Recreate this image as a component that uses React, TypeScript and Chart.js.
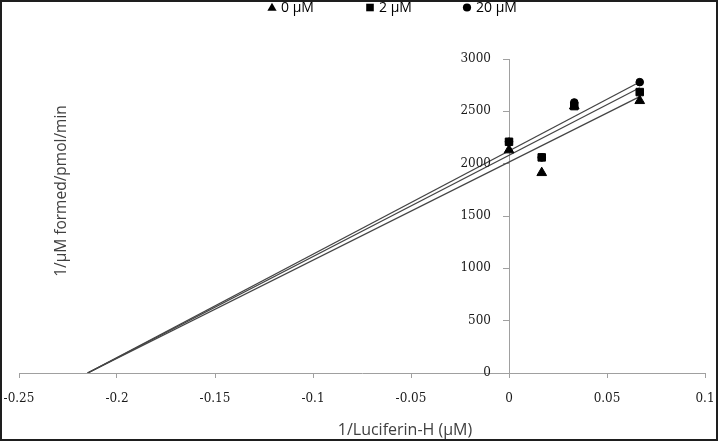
import React, { useEffect, useRef } from 'react';
import { Chart, registerables } from 'chart.js';

Chart.register(...registerables);

// ---- data ----
const seriesLabels = ['0 µM', '2 µM', '20 µM'];
const xValues = [0, 0.0167, 0.0333, 0.0667];
const y0uM = [2130, 1913, 2550, 2601];
const y2uM = [2209, 2060, 2550, 2684];
const y20uM = [2209, 2060, 2585, 2779];

const trendX = [-0.215, 0.0667];
const trend0uM = [0, 2640];
const trend2uM = [0, 2725];
const trend20uM = [0, 2780];

const xTickLabels = ['-0.25', '-0.2', '-0.15', '-0.1', '-0.05', '0', '0.05', '0.1'];
const yTickLabels = ['0', '500', '1000', '1500', '2000', '2500', '3000'];
const xTitle = '1/Luciferin-H (µM)';
const yTitle = '1/µM formed/pmol/min';

const seriesY = [y0uM, y2uM, y20uM];
const trendY = [trend0uM, trend2uM, trend20uM];
const markerStyles = ['triangle', 'rect', 'circle'];
const markerRadius = [5.6, 5.3, 3.8];

const overlayPlugin = {
  id: 'overlay',
  afterDraw(chart: any) {
    const ctx = chart.ctx as CanvasRenderingContext2D;
    const xs = chart.scales.x;
    const ys = chart.scales.y;

    // y tick labels, to the left of the y axis that crosses at x = 0
    const axisX = xs.getPixelForValue(0);
    ctx.save();
    ctx.font = '12px "DejaVu Serif"';
    ctx.fillStyle = '#1a1a1a';
    ctx.textAlign = 'right';
    ctx.textBaseline = 'middle';
    yTickLabels.forEach((l) => {
      ctx.fillText(l, axisX - 18, ys.getPixelForValue(parseFloat(l)));
    });
    ctx.restore();

    // x axis title
    ctx.save();
    ctx.font = '16px "Open Sans"';
    ctx.fillStyle = '#404040';
    ctx.textAlign = 'center';
    ctx.textBaseline = 'middle';
    ctx.fillText(xTitle, 405, 430);
    ctx.restore();

    // y axis title
    ctx.save();
    ctx.translate(62, 191);
    ctx.rotate(-Math.PI / 2);
    ctx.font = '15.5px "Open Sans"';
    ctx.fillStyle = '#404040';
    ctx.textAlign = 'center';
    ctx.textBaseline = 'middle';
    ctx.fillText(yTitle, 0, 0);
    ctx.restore();

    // legend
    const markerX = [272, 370, 467];
    const cy = 7.5;
    ctx.save();
    ctx.fillStyle = '#000';
    ctx.font = '14px "Open Sans"';
    ctx.textBaseline = 'middle';
    ctx.textAlign = 'left';
    seriesLabels.forEach((label, i) => {
      const cx = markerX[i];
      const style = markerStyles[i];
      ctx.beginPath();
      if (style === 'triangle') {
        ctx.moveTo(cx, cy - 4.8);
        ctx.lineTo(cx + 4.6, cy + 3.3);
        ctx.lineTo(cx - 4.6, cy + 3.3);
        ctx.closePath();
      } else if (style === 'rect') {
        ctx.rect(cx - 3.8, cy - 3.8, 7.6, 7.6);
      } else {
        ctx.arc(cx, cy, 4.1, 0, Math.PI * 2);
      }
      ctx.fill();
      ctx.fillText(label, cx + 9, cy + 0.5);
    });
    ctx.restore();
  },
};

export default function App() {
  const canvasRef = useRef<HTMLCanvasElement | null>(null);

  useEffect(() => {
    if (!canvasRef.current) return;
    const datasets: any[] = [];
    seriesLabels.forEach((label, i) => {
      datasets.push({
        type: 'scatter',
        label,
        data: xValues.map((x, j) => ({ x, y: seriesY[i][j] })),
        pointStyle: markerStyles[i],
        pointRadius: markerRadius[i],
        pointHoverRadius: markerRadius[i],
        backgroundColor: '#000',
        borderColor: '#000',
        borderWidth: 1,
        showLine: false,
      });
    });
    seriesLabels.forEach((label, i) => {
      datasets.push({
        type: 'scatter',
        label: label + ' trend',
        data: trendX.map((x, j) => ({ x, y: trendY[i][j] })),
        showLine: true,
        pointRadius: 0,
        borderColor: '#454545',
        borderWidth: 1.3,
        fill: false,
      });
    });

    const chart = new Chart(canvasRef.current, {
      type: 'scatter',
      data: { datasets },
      plugins: [overlayPlugin],
      options: {
        animation: false,
        responsive: false,
        devicePixelRatio: 1,
        layout: { padding: { top: 59, left: 19, right: 13, bottom: 0 } },
        plugins: {
          legend: { display: false },
          tooltip: { enabled: false },
        },
        scales: {
          x: {
            type: 'linear',
            position: 'bottom',
            min: -0.25,
            max: 0.1,
            afterBuildTicks: (s: any) => {
              s.ticks = xTickLabels.map((v) => ({ value: parseFloat(v) }));
            },
            afterFit: (s: any) => {
              s.height = 68;
              s.paddingLeft = 0;
              s.paddingRight = 0;
            },
            ticks: {
              callback: (_v: any, i: number) => xTickLabels[i],
              font: { family: 'DejaVu Serif', size: 12 },
              color: '#1a1a1a',
              padding: 14,
              maxRotation: 0,
              autoSkip: false,
            },
            grid: {
              display: true,
              drawOnChartArea: false,
              drawTicks: true,
              tickLength: 5,
              color: '#a0a0a0',
            },
            border: { display: true, color: '#a0a0a0', width: 1 },
            title: { display: false },
          },
          y: {
            type: 'linear',
            position: { x: 0 },
            min: 0,
            max: 3000,
            afterBuildTicks: (s: any) => {
              s.ticks = yTickLabels.map((v) => ({ value: parseFloat(v) }));
            },
            afterFit: (s: any) => {
              s.width = 0;
              s.paddingTop = 0;
              s.paddingBottom = 0;
            },
            ticks: { display: false },
            grid: {
              display: true,
              drawOnChartArea: false,
              drawTicks: true,
              tickLength: 6,
              color: '#a0a0a0',
            },
            border: { display: true, color: '#a0a0a0', width: 1 },
          },
        },
      } as any,
    });
    return () => chart.destroy();
  }, []);

  return (
    <div style={{ position: 'fixed', left: 0, top: 0, width: 718, height: 441, background: '#fff' }}>
      <canvas ref={canvasRef} width={718} height={441} style={{ position: 'absolute', left: 0, top: 0, width: 718, height: 441 }} />
      <div
        style={{
          position: 'absolute',
          left: 0,
          top: 0,
          width: 718,
          height: 441,
          boxSizing: 'border-box',
          border: '2px solid #1e1e1e',
          pointerEvents: 'none',
        }}
      />
    </div>
  );
}
